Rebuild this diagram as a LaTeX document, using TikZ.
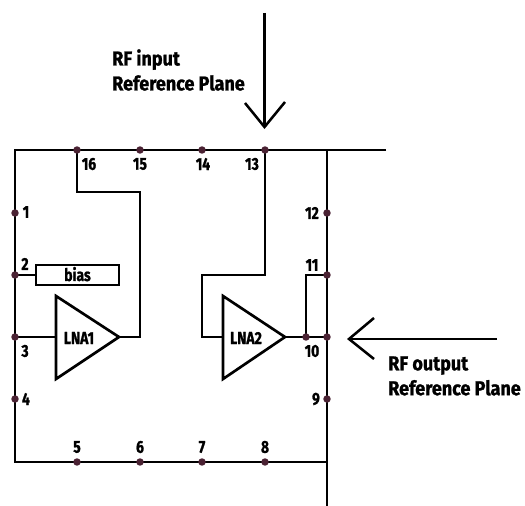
\documentclass[tikz,border=0pt]{standalone}
\usepackage{fontspec}
\setmainfont{Fira Sans}[FakeStretch=0.8,BoldFeatures={FakeBold=1.2}]
\newfontfamily\capfont{Fira Sans}[FakeStretch=0.9,BoldFeatures={FakeBold=1.2}]
\definecolor{pin}{HTML}{4A2233}
\tikzset{
  px/.style={x=0.75pt,y=-0.75pt},
  wire/.style={line width=2.1pt,black,line cap=butt,line join=miter},
  arrowline/.style={line width=1.9pt,black,line cap=butt},
  pindot/.style={circle,fill=pin,inner sep=0pt,minimum size=5.6pt},
  lab/.style={font=\bfseries\fontsize{13pt}{15pt}\selectfont,inner sep=0pt,text=black},
  capt/.style={font=\capfont\bfseries\fontsize{15pt}{18.7pt}\selectfont,inner sep=0pt,align=left,text=black},
}
\begin{document}
\begin{tikzpicture}[px]
\useasboundingbox (0,0) rectangle (525,506);
% pins
\foreach \n/\x/\y in {p16/77/150,p15/140/150,p14/202/150,p13/265/150,
  p1/15/213,p2/15/275,p3/15/337,p4/15/399,
  p5/77/462,p6/140/462,p7/202/462,p8/265/462,
  p12/327/213,p11/327/275,p10/327/337,p9/327/399,pj/306/337}
  \coordinate (\n) at (\x,\y);
\coordinate (tl) at (15,150);
\coordinate (tr) at (386,150);
\coordinate (rt) at (327,150);
\coordinate (bl) at (15,462);
\coordinate (br) at (327,462);
\coordinate (re) at (327,506);
% frame
\draw[wire] (tr) -- (tl) -- (bl) -- (br);
\draw[wire] (rt) -- (re);
% bias
\node[draw,line width=2pt,minimum width=83*0.75pt,minimum height=20*0.75pt,inner sep=0pt,text height=9pt,text depth=0pt,font=\bfseries\fontsize{13pt}{15pt}\selectfont] (bias) at (77.5,275) {bias};
\draw[wire] (p2) -- (bias.west);
% LNA1
\coordinate (a1) at (56,296); \coordinate (a2) at (56,379); \coordinate (a3) at (119,337);
\draw[wire,line width=2pt] (a1) -- (a3) -- (a2) -- cycle;
\node[lab] (lna1) at (79,338) {LNA1};
\coordinate (i1) at (56,337);
\draw[wire] (p3) -- (i1);
\coordinate (w1) at (140,337); \coordinate (w2) at (140,192); \coordinate (w3) at (77,192);
\draw[wire] (a3) -- (w1) -- (w2) -- (w3) -- (p16);
% LNA2
\coordinate (b1) at (223,296); \coordinate (b2) at (223,379); \coordinate (b3) at (285,337);
\draw[wire,line width=2pt] (b1) -- (b3) -- (b2) -- cycle;
\node[lab] (lna2) at (246,338) {LNA2};
\coordinate (i2) at (223,337);
\coordinate (v1) at (202,337); \coordinate (v2) at (202,275); \coordinate (v3) at (265,275);
\draw[wire] (i2) -- (v1) -- (v2) -- (v3) -- (p13);
\draw[wire] (b3) -- (p10);
\coordinate (u1) at (306,275);
\draw[wire] (pj) -- (u1) -- (p11);
% dots
\foreach \n in {p16,p15,p14,p13,p1,p2,p3,p4,p5,p6,p7,p8,p12,p11,p10,p9,pj}
  \node[pindot] at (\n) {};
% labels
\node[lab] (l16) at (89,164) {16};
\node[lab] (l15) at (140,164) {15};
\node[lab] (l14) at (203,164) {14};
\node[lab] (l13) at (252,164) {13};
\node[lab] (l1) at (26,212) {1};
\node[lab] (l2) at (25,264) {2};
\node[lab] (l3) at (25,351) {3};
\node[lab] (l4) at (26,399) {4};
\node[lab] (l5) at (77,447) {5};
\node[lab] (l6) at (140,447) {6};
\node[lab] (l7) at (202,447) {7};
\node[lab] (l8) at (265,447) {8};
\node[lab] (l12) at (312,213) {12};
\node[lab] (l11) at (312,265) {11};
\node[lab] (l10) at (312,351) {10};
\node[lab] (l9) at (316,399) {9};
% arrows
\coordinate (as) at (264.5,13); \coordinate (ae) at (264.5,127);
\coordinate (aa) at (245,103); \coordinate (ab) at (285,102);
\draw[arrowline] (as) -- (ae);
\draw[arrowline] (aa) -- (ae) -- (ab);
\coordinate (bs) at (497,339); \coordinate (be) at (349,339);
\coordinate (ba) at (374,318); \coordinate (bb) at (374,359);
\draw[arrowline] (bs) -- (be);
\draw[arrowline] (ba) -- (be) -- (bb);
% captions
\node[capt,anchor=west] (c1) at (112,70) {RF input\\Reference Plane};
\node[capt,anchor=west] (c2) at (388,376) {RF output\\Reference Plane};
\end{tikzpicture}
\end{document}
